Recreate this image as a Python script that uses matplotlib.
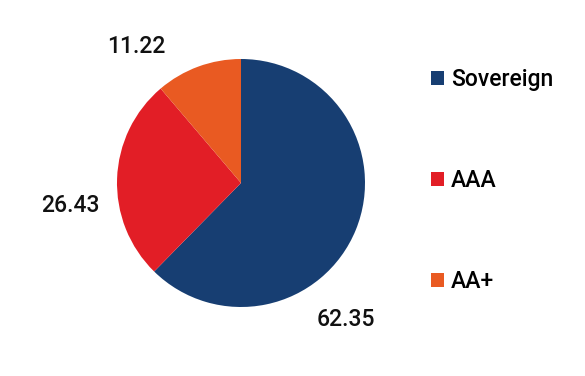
import numpy as np
import matplotlib
matplotlib.use("Agg")
import matplotlib.pyplot as plt
from matplotlib.patches import Patch

# rating split of the portfolio (%)
categories = ["Sovereign", "AAA", "AA+"]
shares = [62.35, 26.43, 11.22]
colors = ["#173e72", "#e21e26", "#e95a22"]

plt.rcParams["font.family"] = ["Roboto", "DejaVu Sans"]
plt.rcParams["font.weight"] = 500

fig = plt.figure(figsize=(5.85, 3.76), dpi=100)

# square axes so the pie sits where the reference has it
R_PX = 124
lim = 1.6
w_px = 2 * lim * R_PX
cx, cy = 241, 376 - 183
ax = fig.add_axes([(cx - w_px / 2) / 585, (cy - w_px / 2) / 376, w_px / 585, w_px / 376])

wedges, texts = ax.pie(shares, colors=colors, startangle=90, counterclock=False,
                       labels=[f"{v:.2f}" for v in shares], labeldistance=1.39,
                       textprops=dict(fontsize=16.5, color="#111111", fontweight=500),
                       wedgeprops=dict(linewidth=0))

# the labels sit off the slice middles in the original
label_angles = [-52.5, 187.5, 127.5]
for t, a in zip(texts, label_angles):
    r = np.deg2rad(a)
    t.set_position((1.39 * np.cos(r), 1.39 * np.sin(r)))
    t.set_ha("center")
    t.set_va("center")

ax.set_xlim(-lim, lim)
ax.set_ylim(-lim, lim)
ax.axis("off")

handles = [Patch(facecolor=c, edgecolor="none") for c in colors]
fig.legend(handles, categories, loc="upper left",
           bbox_to_anchor=(431 / 585, 1 - 68 / 376),
           frameon=False, prop=dict(size=16.5, weight=500), borderpad=0, borderaxespad=0,
           handlelength=0.56, handleheight=0.56, handletextpad=0.3,
           labelspacing=3.4)

fig.savefig("out.png", dpi=100)
